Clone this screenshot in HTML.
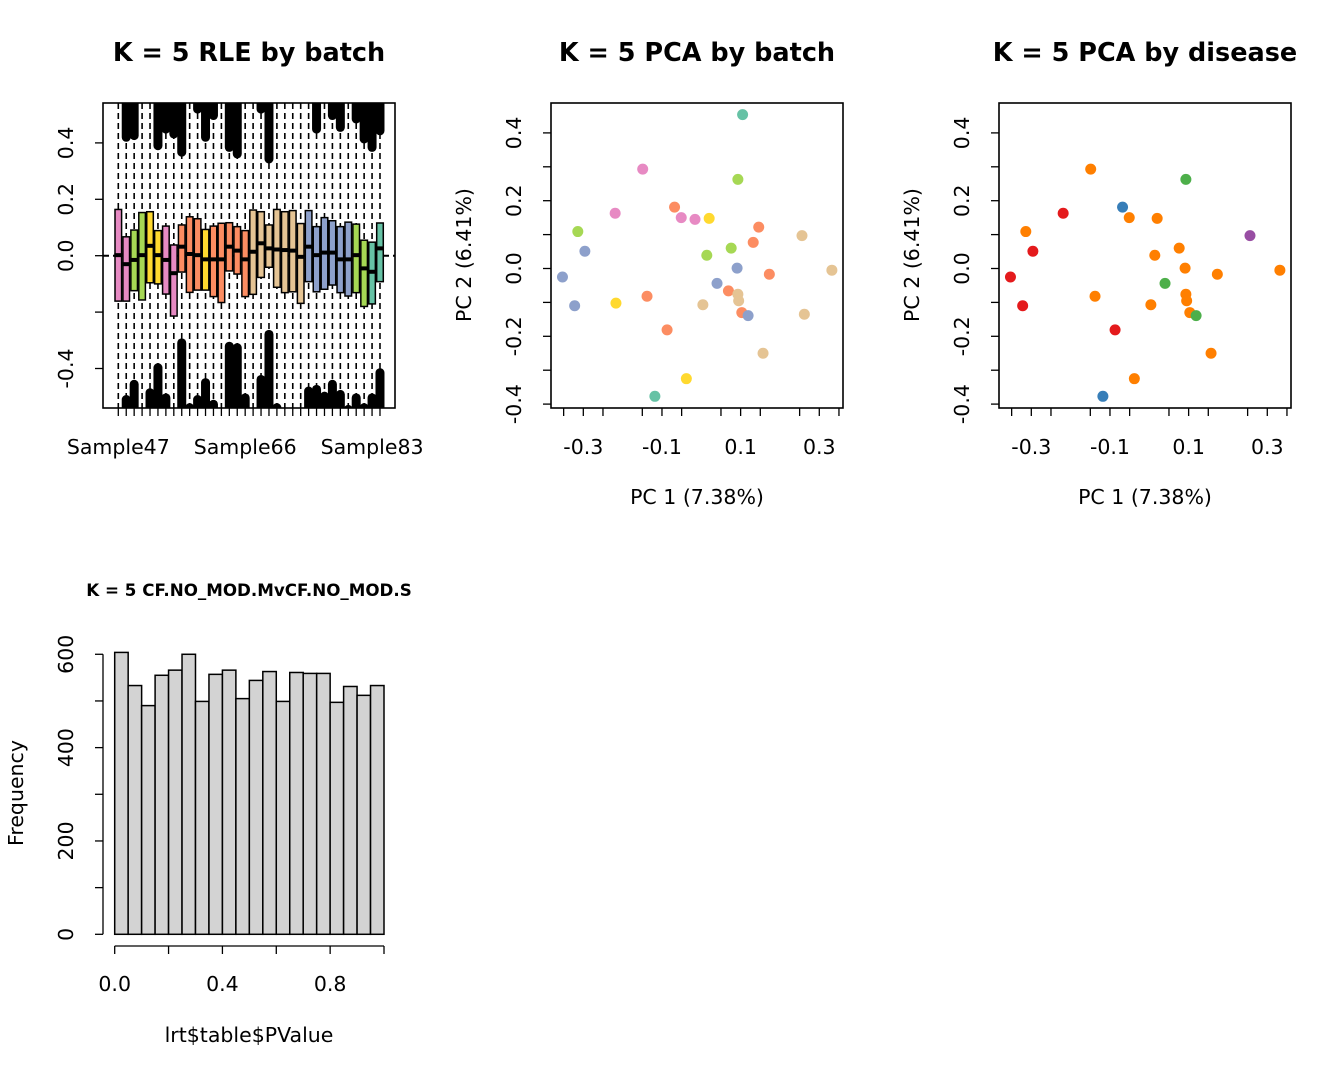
<!DOCTYPE html>
<html><head><meta charset="utf-8"><style>
html,body{margin:0;padding:0;background:#fff;}
svg{display:block;font-family:"DejaVu Sans","Liberation Sans",sans-serif;}
</style></head><body>
<svg id="s" width="1344" height="1075" viewBox="0 0 1344 1075" xmlns="http://www.w3.org/2000/svg"></svg>
<script>
// ---- RLE data ----
const rleTop=[.164,.067,.091,.153,.156,.089,.105,.038,.109,.138,.131,.093,.105,.115,.117,.103,.089,.162,.156,.109,.164,.156,.160,.114,.160,.103,.135,.124,.103,.119,.112,.055,.048,.116];
const rleMed=[.002,-.030,-.015,.002,.035,.002,-.015,-.062,.032,.006,.002,-.013,-.013,-.013,.032,.018,-.013,.014,.044,.026,.022,.020,.018,-.004,.032,.002,.011,.011,-.013,-.013,.002,-.045,-.057,.026];
const rleBot=[-.161,-.161,-.124,-.157,-.096,-.100,-.136,-.214,-.058,-.130,-.122,-.122,-.145,-.166,-.054,-.065,-.145,-.137,-.077,-.041,-.112,-.131,-.128,-.169,-.092,-.128,-.119,-.104,-.131,-.143,-.131,-.180,-.171,-.092];
const rleOutHi=[null,.404,.410,null,null,.374,.433,.416,.351,null,.504,.404,.481,null,.368,.345,null,null,.504,.327,null,null,null,null,null,.433,null,.481,.439,null,.469,.398,.368,.427];
const rleOutLo=[null,-.494,-.440,null,-.470,-.381,-.488,null,-.293,-.523,-.494,-.434,-.511,null,-.305,-.310,-.488,null,-.423,-.263,-.523,null,null,null,-.464,-.458,-.482,-.440,-.476,-.529,-.488,-.523,-.488,-.399];
const rleBatch=["pk","pk","gr","gr","ye","ye","pk","pk","sa","sa","sa","ye","sa","sa","sa","sa","sa","ta","ta","ta","ta","ta","ta","ta","bl","bl","bl","bl","bl","bl","gr","gr","te","te"];
const rleTicks=[-0.4,-0.2,0,0.2,0.4];
const rleTickLabels=["-0.4","","0.0","0.2","0.4"];
const rleXLabels=[[1,"Sample47"],[17,"Sample66"],[33,"Sample83"]];
// ---- PCA data ----
const pcX=[.105,-.149,.093,-.219,-.068,-.051,-.016,.020,.146,.132,-.314,-.296,.076,.256,.014,.091,-.353,.332,.173,.040,.069,.093,.095,-.138,-.217,-.322,.004,.103,.119,.262,-.087,.157,-.038,-.118];
const pcY=[.454,.293,.263,.163,.181,.150,.145,.148,.122,.077,.109,.051,.060,.097,.039,.001,-.025,-.005,-.017,-.044,-.066,-.076,-.095,-.082,-.102,-.110,-.107,-.130,-.139,-.135,-.181,-.250,-.325,-.377];
const pcBatch=["te","pk","gr","pk","sa","pk","pk","ye","sa","sa","gr","bl","gr","ta","gr","bl","bl","ta","sa","bl","sa","ta","ta","sa","ye","bl","ta","sa","bl","ta","sa","ta","ye","te"];
const pcDisease=[null,"or","g1","rd","b1","or",null,"or",null,null,"or","rd","or","pu","or","or","rd","or","or","g1",null,"or","or","or",null,"rd","or","or","g1",null,"rd","or","or","b1"];
const pcTicks=[-0.3,-0.1,0.1,0.3];
const pcYTicks=[-0.4,-0.2,0,0.2,0.4];
const pcYTickLabels=["-0.4","-0.2","0.0","0.2","0.4"];
// ---- histogram data ----
const histCounts=[604,533,490,555,566,600,499,557,566,505,544,563,499,561,559,559,497,531,512,533];
const histBinWidth=0.05;
const histXTicks=[0,0.2,0.4,0.6,0.8,1.0];
const histXLabels=["0.0","","0.4","","0.8",""];
const histYTicks=[0,100,200,300,400,500,600];
const histYLabels=["0","","200","","400","","600"];

const COL={te:"#66C2A5",sa:"#FC8D62",bl:"#8DA0CB",pk:"#E78AC3",gr:"#A6D854",ye:"#FFD92F",ta:"#E5C494",
rd:"#E41A1C",b1:"#377EB8",g1:"#4DAF4A",pu:"#984EA3",or:"#FF7F00"};
const FS=20.5, TS=25.5;
const S=document.getElementById('s');
const NS="http://www.w3.org/2000/svg";
function el(tag,attrs,parent){const e=document.createElementNS(NS,tag);for(const k in attrs)e.setAttribute(k,attrs[k]);(parent||S).appendChild(e);return e;}
function txt(str,x,y,size,opts,parent){const t=el('text',Object.assign({x:x,y:y,'font-size':size,'text-anchor':'middle',fill:'#000'},opts||{}),parent);t.textContent=str;return t;}

// ===== RLE =====
(function(){
const g=el('g',{});


const L=103,R=395,T=103,B=408;
const yS=v=>255.7-v*282;
const xS=i=>118.3+i*7.93;
const cp=el('clipPath',{id:'rc'},g);el('rect',{x:L,y:T,width:R-L,height:B-T},cp);
const inner=el('g',{'clip-path':'url(#rc)'},g);
el('line',{x1:L,x2:R,y1:yS(0),y2:yS(0),stroke:'#000','stroke-width':2,'stroke-dasharray':'6,4'},inner);
for(let i=0;i<rleTop.length;i++){
  const x=xS(i);
  const w=el('line',{x1:x,x2:x,y1:T,y2:B,stroke:'#000','stroke-width':1.6,'stroke-dasharray':'6,4'},inner);
  
  
  if(rleOutHi[i]!==null){const o=el('rect',{x:x-4.5,y:T-10,width:9,height:yS(rleOutHi[i])-T+10,rx:4.5,fill:'#000'},inner);
    
    }
  if(rleOutLo[i]!==null){const o=el('rect',{x:x-4.5,y:yS(rleOutLo[i]),width:9,height:B+10-yS(rleOutLo[i]),rx:4.5,fill:'#000'},inner);
    
    }
}
for(let i=0;i<rleTop.length;i++){
  const x=xS(i);
  const b=el('rect',{x:x-3.3,y:yS(rleTop[i]),width:6.6,height:yS(rleBot[i])-yS(rleTop[i]),fill:COL[rleBatch[i]],stroke:'#000','stroke-width':1.5},inner);
  
  
  el('line',{x1:x-4,x2:x+4,y1:yS(rleMed[i]),y2:yS(rleMed[i]),stroke:'#000','stroke-width':4},inner);
}
el('rect',{x:L,y:T,width:R-L,height:B-T,fill:'none',stroke:'#000','stroke-width':1.6},g);
rleTicks.forEach((v,k)=>{const y=yS(v);el('line',{x1:L,x2:L-8,y1:y,y2:y,stroke:'#000','stroke-width':1.3},g);
  if(rleTickLabels[k])txt(rleTickLabels[k],0,0,FS,{transform:`translate(73,${y}) rotate(-90)`},g);});
for(let i=0;i<rleTop.length;i++){const x=xS(i);el('line',{x1:x,x2:x,y1:B,y2:B+8,stroke:'#000','stroke-width':1.3},g);}
rleXLabels.forEach(([i,s])=>txt(s,xS(i-1),454,FS,{},g));
const t=txt("K = 5 RLE by batch",249,61,TS,{'font-weight':'bold'},g);


})();

// ===== PCA =====
function pca(x0,title,colors,name){
const g=el('g',{});


const L=x0,R=x0+292,T=103,B=408;
const xS=v=>x0+150.3+v*393.3;
const yS=v=>268.5-v*339;
el('rect',{x:L,y:T,width:R-L,height:B-T,fill:'none',stroke:'#000','stroke-width':1.6},g);
for(let i=0;i<pcX.length;i++){
  if(!colors[i])continue;
  const c=el('circle',{cx:xS(pcX[i]),cy:yS(pcY[i]),r:5.5,fill:COL[colors[i]]},g);
  
  
}
for(let v=-0.35;v<=0.351;v+=0.1){const x=xS(v);el('line',{x1:x,x2:x,y1:B,y2:B+8,stroke:'#000','stroke-width':1.3},g);}
pcTicks.forEach(v=>{const x=xS(v);el('line',{x1:x,x2:x,y1:B,y2:B+8,stroke:'#000','stroke-width':1.3},g);
  txt(v.toFixed(1),x,454,FS,{},g);});
for(let v=-0.4;v<=0.401;v+=0.1){const y=yS(v);el('line',{x1:L,x2:L-8,y1:y,y2:y,stroke:'#000','stroke-width':1.3},g);}
pcYTicks.forEach((v,k)=>{const y=yS(v);txt(pcYTickLabels[k],0,0,FS,{transform:`translate(${L-30},${y}) rotate(-90)`},g);});
txt("PC 1 (7.38%)",x0+146,504,FS,{},g);
txt("PC 2 (6.41%)",0,0,FS,{transform:`translate(${L-80},255) rotate(-90)`},g);
txt(title,x0+146,61,TS,{'font-weight':'bold'},g);
}
pca(551,"K = 5 PCA by batch",pcBatch,"pca-batch-plot");
pca(999,"K = 5 PCA by disease",pcDisease,"pca-disease-plot");

// ===== Histogram =====
(function(){
const g=el('g',{});


const xS=v=>114.7+v*269.3;
const yS=v=>934.3-v*0.4667;
histCounts.forEach((c,i)=>{
  const b=el('rect',{x:xS(i*histBinWidth),y:yS(c),width:xS(histBinWidth)-xS(0),height:yS(0)-yS(c),fill:'#D3D3D3',stroke:'#000','stroke-width':1.5},g);
  
  
});
el('line',{x1:xS(0),x2:xS(1),y1:946,y2:946,stroke:'#000','stroke-width':1.3},g);
histXTicks.forEach((v,k)=>{const x=xS(v);el('line',{x1:x,x2:x,y1:946,y2:954,stroke:'#000','stroke-width':1.3},g);
  if(histXLabels[k])txt(histXLabels[k],x,991,FS,{},g);});
el('line',{x1:103,x2:103,y1:yS(0),y2:yS(600),stroke:'#000','stroke-width':1.3},g);
histYTicks.forEach((v,k)=>{const y=yS(v);el('line',{x1:103,x2:95,y1:y,y2:y,stroke:'#000','stroke-width':1.3},g);
  if(histYLabels[k])txt(histYLabels[k],0,0,FS,{transform:`translate(73,${y}) rotate(-90)`},g);});
txt("lrt$table$PValue",249,1042,FS,{},g);
txt("Frequency",0,0,FS,{transform:'translate(23,793) rotate(-90)'},g);
txt("K = 5 CF.NO_MOD.MvCF.NO_MOD.S",249,596,16.7,{'font-weight':'bold'},g);
})();
</script>
</body></html>
